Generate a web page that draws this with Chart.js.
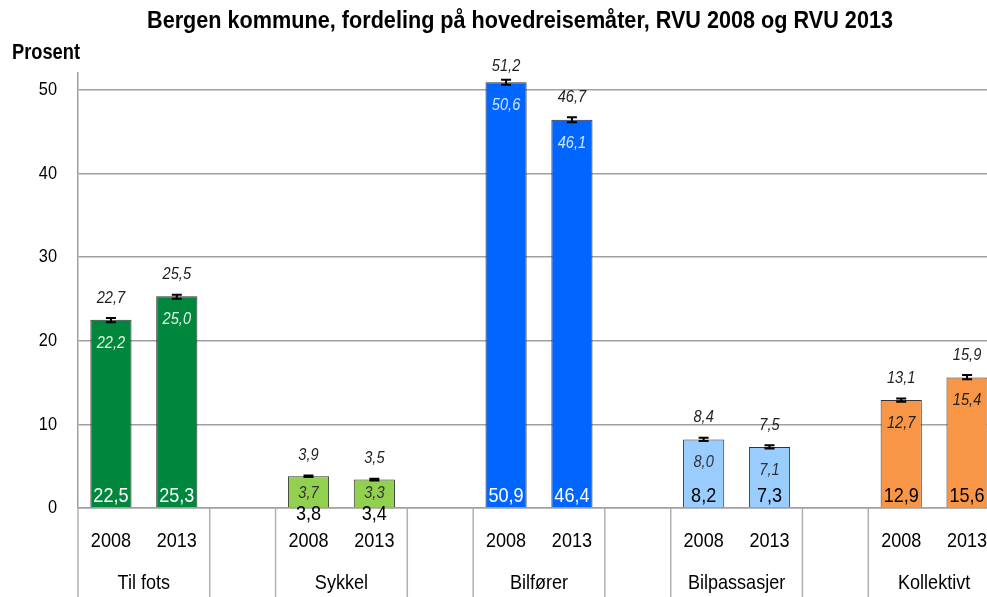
<!DOCTYPE html>
<html>
<head>
<meta charset="utf-8">
<script src="https://cdn.jsdelivr.net/npm/chart.js@4/dist/chart.umd.min.js"></script>
<style>
  html, body { margin: 0; padding: 0; overflow: hidden; background: #fff; }
</style>
</head>
<body>
<canvas id="chart-area" width="987" height="597"></canvas>
<script>
var groups = ['Til fots', 'Sykkel', 'Bilfører', 'Bilpassasjer', 'Kollektivt'];
var years = ['2008', '2013'];
var share2008 = [22.5, 3.8, 50.9, 8.2, 12.9];
var share2013 = [25.3, 3.4, 46.4, 7.3, 15.6];
var low2008 = [22.2, 3.7, 50.6, 8.0, 12.7];
var high2008 = [22.7, 3.9, 51.2, 8.4, 13.1];
var low2013 = [25.0, 3.3, 46.1, 7.1, 15.4];
var high2013 = [25.5, 3.5, 46.7, 7.5, 15.9];
var yTicks = [0, 10, 20, 30, 40, 50];

var barColors = ['#00873d', '#92d050', '#0066ff', '#99ccff', '#f79646'];
var valueColors = ['#ffffff', '#000000', '#ffffff', '#000000', '#000000'];
var lowColors = ['#e3f3e3', '#333333', '#cfe4ff', '#333333', '#222222'];

var TITLE = 'Bergen kommune, fordeling på hovedreisemåter, RVU 2008 og RVU 2013';

// no Arial Narrow here: squeeze Liberation Sans sideways instead
var FONT = "'Liberation Sans', Arial, sans-serif";

// build the 14 slots: 2008, 2013, gap, 2008, 2013, gap ...
var labels = [], values = [], lows = [], highs = [], colors = [], groupOf = [];
groups.forEach(function(g, i) {
  labels.push(years[0], years[1]);
  values.push(share2008[i], share2013[i]);
  lows.push(low2008[i], low2013[i]);
  highs.push(high2008[i], high2013[i]);
  colors.push(barColors[i], barColors[i]);
  groupOf.push(i, i);
  if (i < groups.length - 1) {
    labels.push('');
    values.push(null); lows.push(null); highs.push(null);
    colors.push('transparent'); groupOf.push(-1);
  }
});

function fmt(v) { return v.toFixed(1).replace('.', ','); }

function text(ctx, s, x, y, font, color, align, squeeze) {
  ctx.save();
  ctx.font = font;
  ctx.fillStyle = color;
  ctx.textAlign = align || 'center';
  ctx.textBaseline = 'middle';
  ctx.translate(x, y);
  ctx.scale(squeeze || 0.86, 1);
  ctx.fillText(s, 0, 0);
  ctx.restore();
}

var extras = {
  id: 'extras',
  // the original plot runs past the right edge of the picture
  afterLayout: function(chart) {
    var xs = chart.scales.x, extra = 13;
    chart.chartArea.right += extra;
    chart.chartArea.width += extra;
    xs.right += extra;
    xs.width += extra;
    xs.configure();
  },
  afterDatasetsDraw: function(chart) {
    var ctx = chart.ctx;
    var xs = chart.scales.x, ys = chart.scales.y;
    var area = chart.chartArea;
    var meta = chart.getDatasetMeta(0);
    ctx.save();

    // error bars
    ctx.strokeStyle = '#000';
    meta.data.forEach(function(bar, i) {
      if (values[i] == null) return;
      var x = bar.x;
      var yl = ys.getPixelForValue(lows[i]);
      var yh = ys.getPixelForValue(highs[i]);
      ctx.lineWidth = 2;
      ctx.beginPath();
      ctx.moveTo(x, yl); ctx.lineTo(x, yh);
      ctx.moveTo(x - 5, yl); ctx.lineTo(x + 5, yl);
      ctx.moveTo(x - 5, yh); ctx.lineTo(x + 5, yh);
      ctx.stroke();
    });

    // bar labels
    var base = ys.getPixelForValue(0);
    meta.data.forEach(function(bar, i) {
      if (values[i] == null) return;
      var g = groupOf[i];
      var x = bar.x;
      var h = base - bar.y;
      if (h < 45) {
        text(ctx, fmt(values[i]), x, base + 6, '21px ' + FONT, '#000');
      } else {
        text(ctx, fmt(values[i]), x, base - 12, '21px ' + FONT, valueColors[g]);
      }
      var ly = Math.min(bar.y + 23, base - 15);
      text(ctx, fmt(lows[i]), x, ly, 'italic 17px ' + FONT, lowColors[g]);
      var uy = Math.max(ys.getPixelForValue(highs[i]) - 20, area.top - 7);
      text(ctx, fmt(highs[i]), x, uy, 'italic 17px ' + FONT, '#222');
    });

    // separators under the x axis
    ctx.strokeStyle = '#b0b0b0';
    ctx.lineWidth = 1.5;
    for (var i = 0; i < labels.length; i++) {
      if (i % 3 === 1) continue;
      var sx = i === 0 ? area.left : (xs.getPixelForValue(i - 1) + xs.getPixelForValue(i)) / 2;
      ctx.beginPath();
      ctx.moveTo(sx, area.bottom);
      ctx.lineTo(sx, chart.height);
      ctx.stroke();
    }

    // year ticks and group names
    labels.forEach(function(l, i) {
      if (l) text(ctx, l, xs.getPixelForValue(i), 541, '21px ' + FONT, '#000');
    });
    groups.forEach(function(g, k) {
      var gx = (xs.getPixelForValue(3 * k) + xs.getPixelForValue(3 * k + 1)) / 2;
      text(ctx, g, gx, 583, '21px ' + FONT, '#000');
    });

    // y ticks
    yTicks.forEach(function(v) {
      text(ctx, String(v), 57, ys.getPixelForValue(v), '19px ' + FONT, '#000', 'right');
    });

    // title and axis caption
    ctx.font = 'bold 23px ' + FONT;
    var tw = ctx.measureText(TITLE).width;
    text(ctx, TITLE, 520, 22, 'bold 23px ' + FONT, '#000', 'center', 746 / tw);
    text(ctx, 'Prosent', 12, 53, 'bold 22px ' + FONT, '#000', 'left', 0.83);
    ctx.restore();
  }
};

var ctx = document.getElementById('chart-area').getContext('2d');
var config = {
  type: 'bar',
  data: {
    labels: labels,
    datasets: [{
      data: values,
      backgroundColor: colors,
      borderColor: '#333333',
      borderWidth: 1,
      categoryPercentage: 1,
      barPercentage: 0.625
    }]
  },
  options: {
    responsive: false,
    animation: false,
    layout: { padding: { top: 73, left: 0, right: 0, bottom: 0 } },
    plugins: {
      legend: { display: false },
      tooltip: { enabled: false }
    },
    scales: {
      x: {
        grid: { display: false },
        border: { display: true, color: '#a0a0a0', width: 1.5 },
        ticks: { display: false },
        afterFit: function(s) { s.height = 89; }
      },
      y: {
        min: 0,
        max: 52,
        afterBuildTicks: function(s) { s.ticks = yTicks.map(function(v) { return { value: v }; }); },
        grid: { color: '#a0a0a0', lineWidth: 1.5, drawTicks: false },
        border: { display: true, color: '#a0a0a0', width: 1.5 },
        ticks: { display: false },
        afterFit: function(s) { s.width = 78; }
      }
    }
  },
  plugins: [extras]
};
window.myBar = new Chart(ctx, config);
</script>
</body>
</html>
